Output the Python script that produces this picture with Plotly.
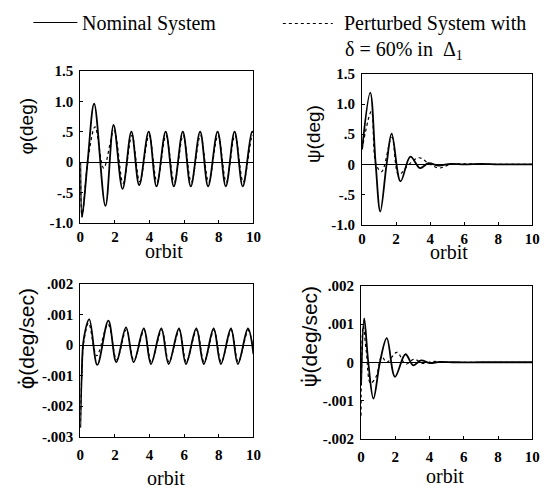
import plotly.graph_objects as go

# ---- time axis samples (orbit) and responses -------------------------------
# Roll angle phi (deg)
t_phi_nom = [0, 0.1, 0.42, 0.8, 1.45, 1.92, 2.44, 2.95, 3.4, 3.95, 4.4, 4.93, 5.4,
             5.92, 6.38, 6.92, 7.38, 7.93, 8.4, 8.91, 9.38, 9.92, 10]
phi_nom = [0, -0.9, 0.0, 0.96, -0.72, 0.61, -0.44, 0.5, -0.38, 0.5, -0.4, 0.5, -0.4,
           0.5, -0.4, 0.5, -0.4, 0.5, -0.4, 0.5, -0.4, 0.5, 0.49]

t_phi_pert = [0, 0.1, 0.45, 0.85, 1.35, 1.95, 2.47, 2.98, 3.43, 3.97, 4.43, 4.95, 5.43,
              5.94, 6.41, 6.94, 7.41, 7.95, 8.43, 8.93, 9.41, 9.94, 10]
phi_pert = [0, -0.9, 0.05, 0.58, -0.1, 0.52, -0.35, 0.44, -0.32, 0.44, -0.33, 0.44, -0.33,
            0.44, -0.33, 0.44, -0.33, 0.44, -0.33, 0.44, -0.33, 0.44, 0.43]

# Yaw angle psi (deg)
t_psi_nom = [0, 0.48, 0.8, 1.07, 1.44, 1.74, 2.26, 2.84, 3.4, 3.9, 4.5, 5.2, 6.0, 7.0, 8.0, 9.0, 10]
psi_nom = [0.25, 1.19, 0.0, -0.78, 0.0, 0.51, -0.28, 0.13, -0.06, 0.02, -0.02, 0.01, 0.0,
           0.01, 0.0, 0.0, 0.0]

t_psi_pert = [0, 0.55, 0.82, 1.15, 1.75, 2.15, 2.75, 3.35, 3.9, 4.5, 5.2, 6.0, 7.0, 8.0, 9.0, 10]
psi_pert = [0.25, 0.88, 0.0, -0.12, 0.45, -0.17, 0.0, 0.11, 0.02, -0.06, 0.0, 0.01, 0.0,
            0.0, 0.0, 0.0]

# Roll rate phi-dot (deg/sec)
t_dphi_nom = [0, 0.08, 0.2, 0.52, 0.98, 1.62, 2.08, 2.64, 3.08, 3.67, 4.08, 4.68, 5.1,
              5.7, 6.1, 6.7, 7.13, 7.7, 8.12, 8.7, 9.1, 9.68, 10]
dphi_nom = [-0.0027, -0.001, 0.0002, 0.00084, -0.00065, 0.0008, -0.00056, 0.00058,
            -0.00056, 0.00054, -0.00062, 0.00054, -0.00062, 0.00054, -0.00062, 0.00054,
            -0.00062, 0.00054, -0.00062, 0.00054, -0.00062, 0.00054, -0.0003]

t_dphi_pert = [0, 0.08, 0.2, 0.48, 0.95, 1.6, 2.1, 2.66, 3.1, 3.69, 4.1, 4.7, 5.12,
               5.72, 6.12, 6.72, 7.15, 7.72, 8.14, 8.72, 9.12, 9.7, 10]
dphi_pert = [-0.0027, -0.001, 0.0001, 0.00072, -0.00035, 0.00068, -0.00048, 0.0005,
             -0.0005, 0.00048, -0.00055, 0.00048, -0.00055, 0.00048, -0.00055, 0.00048,
             -0.00055, 0.00048, -0.00055, 0.00048, -0.00055, 0.00048, -0.00025]

# Yaw rate psi-dot (deg/sec)
t_dpsi_nom = [0, 0.18, 0.42, 0.72, 1.1, 1.5, 1.98, 2.59, 3.05, 3.5, 4.0, 4.6, 5.5, 7.0, 8.5, 10]
dpsi_nom = [-0.0006, 0.00115, 0.0, -0.00095, 0.0, 0.00063, -0.00038, 0.00021, -0.00008,
            0.00005, -0.00002, 0.00001, 0.0, 0.0, 0.0, 0.0]

t_dpsi_pert = [0, 0.12, 0.3, 0.55, 0.9, 1.2, 1.5, 2.1, 2.6, 3.1, 3.6, 4.2, 5.0, 6.5, 8.0, 10]
dpsi_pert = [-0.0014, 0.00095, 0.0003, -0.00055, -0.00035, 0.00015, 0.0, 0.00026, -0.00005,
             0.00008, -0.00003, 0.00002, 0.0, 0.0, 0.0, 0.0]

# ---- axis ticks --------------------------------------------------------------
x_ticks = [0, 2, 4, 6, 8, 10]
x_tick_text = ["0", "2", "4", "6", "8", "10"]
ang_ticks = [-1.0, -0.5, 0, 0.5, 1.0, 1.5]
ang_tick_text = ["-1.0", "-.5", "0", ".5", "1.0", "1.5"]
dphi_ticks = [-0.003, -0.002, -0.001, 0, 0.001, 0.002]
dphi_tick_text = ["-.003", "-.002", "-.001", "0", ".001", ".002"]
dpsi_ticks = [-0.002, -0.001, 0, 0.001, 0.002]
dpsi_tick_text = ["-.002", "-.001", "0", ".001", ".002"]

W, H = 554, 499
SERIF = "Liberation Serif"
SANS = "Liberation Sans"


def px(x):
    return x / W


def py(y):
    return 1 - y / H


fig = go.Figure()

panels = [
    ("x", "y", t_phi_nom, phi_nom, t_phi_pert, phi_pert),
    ("x2", "y2", t_psi_nom, psi_nom, t_psi_pert, psi_pert),
    ("x3", "y3", t_dphi_nom, dphi_nom, t_dphi_pert, dphi_pert),
    ("x4", "y4", t_dpsi_nom, dpsi_nom, t_dpsi_pert, dpsi_pert),
]
for xa, ya, tn, vn, tp, vp in panels:
    fig.add_trace(go.Scatter(x=tp, y=vp, xaxis=xa, yaxis=ya, mode="lines",
                             line=dict(color="black", width=1.2, dash="dot", shape="spline"),
                             showlegend=False, hoverinfo="skip"))
    fig.add_trace(go.Scatter(x=tn, y=vn, xaxis=xa, yaxis=ya, mode="lines",
                             line=dict(color="black", width=1.8, shape="spline"),
                             showlegend=False, hoverinfo="skip"))

tick_font = dict(family=SERIF, size=15, color="black", weight="bold")
common_x = dict(range=[0, 10], tickvals=x_ticks, ticktext=x_tick_text, showline=True,
                linecolor="black", linewidth=1.3, mirror=True, ticks="inside", ticklen=3,
                tickcolor="black", showgrid=False, zeroline=False, tickfont=tick_font)
common_y = dict(showline=True, linecolor="black", linewidth=1.3, mirror=True,
                ticks="inside", ticklen=3, tickcolor="black", showgrid=False,
                zeroline=True, zerolinecolor="black", zerolinewidth=1.2,
                ticklabelstandoff=3, tickfont=tick_font)

fig.update_layout(
    width=W, height=H, margin=dict(l=0, r=0, t=0, b=0),
    paper_bgcolor="white", plot_bgcolor="white", showlegend=False,
    xaxis=dict(common_x, domain=[px(78), px(255)], anchor="y"),
    yaxis=dict(common_y, domain=[py(222), py(65)], anchor="x", range=[-1.0, 1.5],
               tickvals=ang_ticks, ticktext=ang_tick_text),
    xaxis2=dict(common_x, domain=[px(366), px(540)], anchor="y2"),
    yaxis2=dict(common_y, domain=[py(224), py(68)], anchor="x2", range=[-1.0, 1.5],
                tickvals=ang_ticks, ticktext=ang_tick_text),
    xaxis3=dict(common_x, domain=[px(78), px(255)], anchor="y3", ticklabelstandoff=4),
    yaxis3=dict(common_y, domain=[py(443), py(285)], anchor="x3", range=[-0.003, 0.002],
                tickvals=dphi_ticks, ticktext=dphi_tick_text),
    xaxis4=dict(common_x, domain=[px(365), px(540)], anchor="y4", ticklabelstandoff=4),
    yaxis4=dict(common_y, domain=[py(445), py(287)], anchor="x4", range=[-0.002, 0.002],
                tickvals=dpsi_ticks, ticktext=dpsi_tick_text),
)

annotations = []


def label(text, x, y, size, family=SERIF, angle=0, xanchor="center"):
    annotations.append(dict(text=text, x=px(x), y=py(y), xref="paper", yref="paper",
                            showarrow=False, textangle=angle, xanchor=xanchor,
                            yanchor="middle",
                            font=dict(family=family, size=size, color="black")))


# axis titles
for cx, cy in [(164, 251), (455, 252), (166, 486), (451, 484)]:
    label("orbit", cx, cy, 20)
DOT = '<span style="font-family:DejaVu Sans">{}</span>'
label("\u03c6(deg)", 23, 122, 19, SANS, -90)
label("\u03c8(deg)", 317, 130, 19, SANS, -90)
label(DOT.format("\u03c6\u0307") + "(deg/sec)", 24, 342, 21, SANS, -90)
label(DOT.format("\u03c8\u0307") + "(deg/sec)", 313, 340, 21, SANS, -90)

# legend
label("Nominal System", 78, 16, 20, xanchor="left")
label("Perturbed System with", 345, 16, 20, xanchor="left")
label("\u03b4 = 60% in  \u0394<sub>1</sub>", 347, 44, 20, xanchor="left")
fig.update_layout(annotations=annotations)

fig.add_shape(type="line", xref="paper", yref="paper", x0=px(30), x1=px(75),
              y0=py(15), y1=py(15), line=dict(color="black", width=1.2))
fig.add_shape(type="line", xref="paper", yref="paper", x0=px(285), x1=px(336),
              y0=py(16), y1=py(16), line=dict(color="black", width=1.2, dash="dot"))

fig.write_html("out.html")
